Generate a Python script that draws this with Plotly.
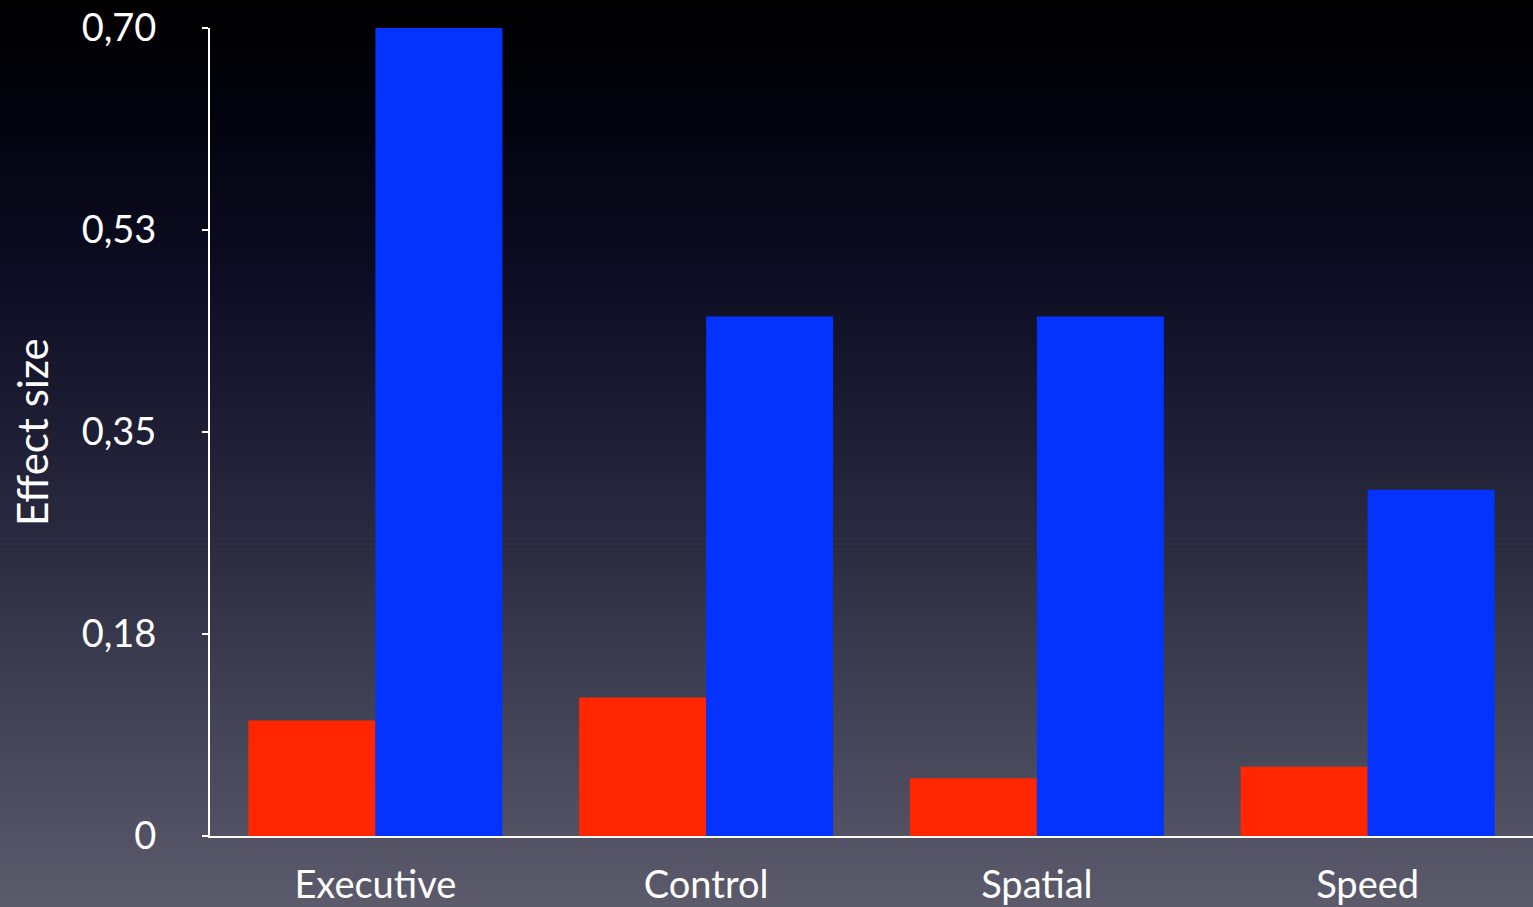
import plotly.graph_objects as go

# Effect sizes per cognitive domain
categories = ["Executive", "Control", "Spatial", "Speed"]
series_a = [0.10, 0.12, 0.05, 0.06]
series_b = [0.70, 0.45, 0.45, 0.30]
tick_vals = [0, 0.175, 0.35, 0.525, 0.70]
tick_text = ["0", "0,18", "0,35", "0,53", "0,70"]

W, H = 1533, 907
ML, MR, MT, MB = 210, 0, 28, 71
PW, PH = W - ML - MR, H - MT - MB

FONT = "Lato, 'Open Sans', sans-serif"


def lerp(c1, c2, t):
    return tuple(round(a + (b - a) * t) for a, b in zip(c1, c2))


# vertical background gradient (top -> bottom), stops as (fraction, rgb)
stops = [
    (0.00, (0, 0, 0)),
    (0.12, (3, 3, 14)),
    (0.30, (12, 12, 34)),
    (0.50, (32, 32, 54)),
    (0.75, (62, 62, 82)),
    (1.00, (92, 91, 108)),
]


def grad_color(f):
    for (f0, c0), (f1, c1) in zip(stops, stops[1:]):
        if f <= f1:
            return lerp(c0, c1, (f - f0) / (f1 - f0))
    return stops[-1][1]


shapes = []
n = 181
step = H / n
for i in range(n):
    top_px = i * step
    bot_px = (i + 1) * step + 0.6
    c = grad_color((i + 0.5) / n)
    shapes.append(dict(
        type="rect", xref="paper", yref="paper", layer="below",
        x0=(0 - ML) / PW, x1=(W - ML) / PW + 0.01,
        y0=(MT + PH - bot_px) / PH, y1=(MT + PH - top_px) / PH,
        line=dict(width=0), fillcolor="rgb(%d,%d,%d)" % c,
    ))

fig = go.Figure()
fig.add_trace(go.Bar(x=categories, y=series_a, marker=dict(color="#FF2600", line=dict(width=0))))
fig.add_trace(go.Bar(x=categories, y=series_b, marker=dict(color="#0433FF", line=dict(width=0))))

fig.update_layout(
    width=W, height=H,
    margin=dict(l=ML, r=MR, t=MT, b=MB, pad=0),
    paper_bgcolor="#000000", plot_bgcolor="rgba(0,0,0,0)",
    barmode="group", bargap=0.232, bargroupgap=0,
    showlegend=False,
    shapes=shapes,
    font=dict(family=FONT, color="white", size=40),
    xaxis=dict(
        showgrid=False, zeroline=False, showline=True, linecolor="white", linewidth=2,
        ticks="", tickfont=dict(size=38, color="white", family=FONT),
        ticklabelstandoff=14,
    ),
    yaxis=dict(
        range=[0, 0.70], showgrid=False, zeroline=False, showline=True,
        linecolor="white", linewidth=2, ticks="outside", ticklen=6, tickwidth=2,
        tickcolor="white", tickvals=tick_vals, ticktext=tick_text,
        tickfont=dict(size=38, color="white", family=FONT),
        ticklabelstandoff=38,
    ),
    annotations=[dict(
        text="Effect size", textangle=-90, showarrow=False,
        xref="paper", yref="paper", x=(32 - ML) / PW, y=0.5,
        xanchor="center", yanchor="middle",
        font=dict(size=42, color="white", family=FONT),
    )],
)

fig.write_html("out.html")
